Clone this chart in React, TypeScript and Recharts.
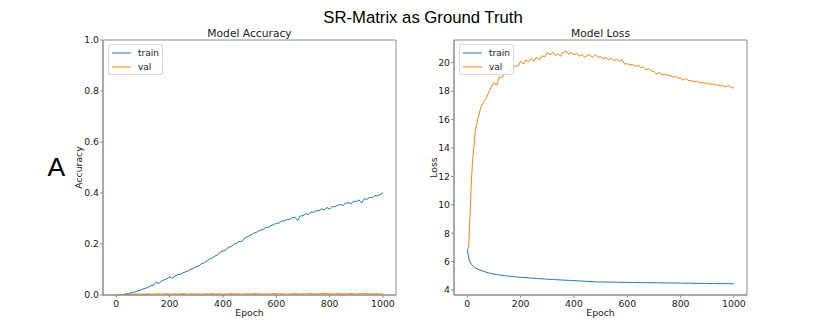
import {
  LineChart,
  Line,
  XAxis,
  YAxis,
  Legend,
  Label,
  ReferenceArea,
} from 'recharts';

// epochs sampled from the training run
const epochs = [
  0, 5, 10, 15, 20, 30, 40, 50, 60, 70,
  80, 90, 100, 110, 120, 130, 140, 150, 160, 170,
  180, 190, 200, 210, 220, 230, 240, 250, 260, 270,
  280, 290, 300, 310, 320, 330, 340, 350, 360, 370,
  380, 390, 400, 410, 420, 430, 440, 450, 460, 470,
  480, 490, 500, 510, 520, 530, 540, 550, 560, 570,
  580, 590, 600, 610, 620, 630, 640, 650, 660, 670,
  680, 690, 700, 710, 720, 730, 740, 750, 760, 770,
  780, 790, 800, 810, 820, 830, 840, 850, 860, 870,
  880, 890, 900, 910, 920, 930, 940, 950, 960, 970,
  980, 990, 1000,
];

const trainAcc = [
  0.000, 0.001, 0.000, 0.002, 0.001, 0.003, 0.005, 0.007, 0.010, 0.012,
  0.016, 0.019, 0.024, 0.026, 0.031, 0.037, 0.039, 0.051, 0.046, 0.055,
  0.060, 0.064, 0.071, 0.066, 0.074, 0.080, 0.081, 0.087, 0.091, 0.095,
  0.101, 0.105, 0.112, 0.114, 0.124, 0.126, 0.134, 0.141, 0.145, 0.153,
  0.157, 0.169, 0.172, 0.176, 0.187, 0.189, 0.199, 0.202, 0.210, 0.209,
  0.222, 0.227, 0.234, 0.238, 0.245, 0.248, 0.255, 0.256, 0.265, 0.265,
  0.272, 0.276, 0.281, 0.282, 0.290, 0.290, 0.297, 0.296, 0.304, 0.305,
  0.292, 0.310, 0.311, 0.319, 0.316, 0.326, 0.324, 0.331, 0.330, 0.337,
  0.335, 0.343, 0.337, 0.347, 0.346, 0.352, 0.355, 0.351, 0.360, 0.362,
  0.358, 0.368, 0.366, 0.373, 0.361, 0.378, 0.375, 0.383, 0.381, 0.390,
  0.389, 0.394, 0.401,
];

const valAcc = [
  0.000, 0.000, 0.001, 0.001, 0.002, 0.002, 0.003, 0.002, 0.003, 0.004,
  0.003, 0.004, 0.003, 0.004, 0.005, 0.003, 0.004, 0.004, 0.005, 0.003,
  0.004, 0.005, 0.004, 0.003, 0.005, 0.004, 0.004, 0.006, 0.004, 0.003,
  0.005, 0.004, 0.004, 0.005, 0.003, 0.004, 0.005, 0.004, 0.006, 0.004,
  0.004, 0.005, 0.003, 0.005, 0.004, 0.006, 0.004, 0.005, 0.004, 0.003,
  0.005, 0.004, 0.005, 0.004, 0.006, 0.004, 0.005, 0.003, 0.005, 0.004,
  0.004, 0.006, 0.005, 0.004, 0.005, 0.004, 0.003, 0.005, 0.004, 0.006,
  0.005, 0.004, 0.005, 0.004, 0.005, 0.006, 0.004, 0.005, 0.004, 0.005,
  0.006, 0.004, 0.005, 0.005, 0.004, 0.006, 0.005, 0.004, 0.005, 0.004,
  0.006, 0.005, 0.004, 0.005, 0.005, 0.004, 0.006, 0.005, 0.004, 0.005,
  0.005, 0.004, 0.005,
];

const trainLoss = [
  6.90, 6.25, 5.98, 5.82, 5.71, 5.56, 5.46, 5.39, 5.32, 5.26,
  5.21, 5.16, 5.12, 5.09, 5.06, 5.03, 5.01, 4.99, 4.97, 4.95,
  4.93, 4.91, 4.89, 4.88, 4.87, 4.85, 4.84, 4.83, 4.81, 4.80,
  4.79, 4.78, 4.76, 4.75, 4.74, 4.73, 4.72, 4.71, 4.70, 4.69,
  4.68, 4.67, 4.66, 4.65, 4.64, 4.63, 4.62, 4.61, 4.60, 4.59,
  4.58, 4.57, 4.57, 4.56, 4.56, 4.56, 4.55, 4.55, 4.55, 4.54,
  4.54, 4.54, 4.54, 4.53, 4.53, 4.53, 4.53, 4.52, 4.52, 4.52,
  4.52, 4.52, 4.51, 4.51, 4.51, 4.50, 4.50, 4.50, 4.50, 4.49,
  4.49, 4.49, 4.49, 4.48, 4.48, 4.48, 4.48, 4.47, 4.47, 4.47,
  4.47, 4.47, 4.46, 4.46, 4.46, 4.46, 4.46, 4.45, 4.45, 4.45,
  4.45, 4.45, 4.44,
];

const valLoss = [
  6.90, 6.95, 9.20, 11.60, 13.20, 15.20, 16.10, 16.80, 17.20, 17.50,
  17.90, 18.30, 18.60, 18.40, 19.00, 18.95, 19.25, 19.30, 19.45, 19.55,
  19.80, 19.75, 20.10, 19.90, 20.20, 20.05, 20.30, 20.10, 20.40, 20.20,
  20.50, 20.40, 20.72, 20.55, 20.75, 20.50, 20.65, 20.45, 20.75, 20.82,
  20.60, 20.74, 20.55, 20.66, 20.46, 20.58, 20.40, 20.52, 20.56, 20.36,
  20.58, 20.38, 20.42, 20.28, 20.38, 20.20, 20.30, 20.16, 20.24, 20.10,
  20.22, 19.90, 19.94, 19.84, 19.88, 19.74, 19.82, 19.66, 19.70, 19.52,
  19.58, 19.44, 19.38, 19.20, 19.32, 19.14, 19.20, 19.12, 19.12, 19.00,
  19.04, 18.92, 18.92, 18.78, 18.88, 18.74, 18.76, 18.66, 18.70, 18.58,
  18.62, 18.54, 18.58, 18.48, 18.52, 18.42, 18.44, 18.36, 18.40, 18.28,
  18.40, 18.26, 18.22,
];

const epochTicks = [0, 200, 400, 600, 800, 1000];
const accTicks = [0, 0.2, 0.4, 0.6, 0.8, 1.0];
const lossTicks = [4, 6, 8, 10, 12, 14, 16, 18, 20];

const rows = epochs.map((epoch, i) => ({
  epoch,
  trainAcc: trainAcc[i],
  valAcc: valAcc[i],
  trainLoss: trainLoss[i],
  valLoss: valLoss[i],
}));

const FONT = '"DejaVu Sans", sans-serif';
const FRAME = '#8c8c8c';
const BLUE = '#1f77b4';
const ORANGE = '#ff7f0e';
const X_DOMAIN: [number, number] = [-50, 1049];
const tickStyle = {fontFamily: FONT, fontSize: 9.3, fill: '#1a1a1a'};

const LegendBox = ({payload}: any) => (
  <div
    style={{
      width: 53,
      height: 29,
      border: '1px solid #d9d9d9',
      borderRadius: 2,
      background: 'rgba(255,255,255,0.8)',
      fontFamily: FONT,
      fontSize: 9,
      color: '#1a1a1a',
    }}
  >
    {(payload || []).map((item: any) => (
      <div key={item.value} style={{display: 'flex', alignItems: 'center', height: 14, marginTop: item.value === 'train' ? 1 : 0}}>
        <div style={{width: 19, height: 1.5, marginLeft: 3, marginRight: 7, background: item.color, opacity: 0.5}}/>
        <span style={{lineHeight: '14px'}}>{item.value}</span>
      </div>
    ))}
  </div>
);

type PanelProps = {
  title: string;
  yLabel: string;
  trainKey: string;
  valKey: string;
  domain: [number, number];
  ticks: number[];
  fmt: (v: number) => string;
  marginLeft: number;
  marginRight: number;
  yWidth: number;
  labelOffset: number;
};

const Panel = (p: PanelProps) => (
  <LineChart
    width={415}
    height={332}
    data={rows}
    margin={{top: 40, right: p.marginRight, bottom: 0, left: p.marginLeft}}
  >
    <XAxis
      dataKey="epoch"
      type="number"
      domain={X_DOMAIN}
      ticks={epochTicks}
      allowDataOverflow
      height={37}
      tick={tickStyle}
      tickSize={3}
      tickMargin={2}
      axisLine={{stroke: FRAME}}
      tickLine={{stroke: FRAME}}
    >
      <Label value="Epoch" position="insideBottom" offset={16} style={{fontFamily: FONT, fontSize: 9.3, fill: '#1a1a1a'}}/>
    </XAxis>
    <YAxis
      type="number"
      domain={p.domain}
      ticks={p.ticks}
      allowDataOverflow
      width={p.yWidth}
      tick={tickStyle}
      tickSize={3}
      tickMargin={1}
      tickFormatter={p.fmt}
      axisLine={{stroke: FRAME}}
      tickLine={{stroke: FRAME}}
    >
      <Label
        value={p.yLabel}
        angle={-90}
        position="insideLeft"
        offset={p.labelOffset}
        style={{fontFamily: FONT, fontSize: 9.3, fill: '#1a1a1a', textAnchor: 'middle'}}
      />
    </YAxis>
    {/* axes frame + panel title */}
    <ReferenceArea
      x1={X_DOMAIN[0]}
      x2={X_DOMAIN[1]}
      y1={p.domain[0]}
      y2={p.domain[1]}
      fill="none"
      fillOpacity={0}
      stroke={FRAME}
      strokeWidth={1}
      ifOverflow="visible"
    >
      <Label value={p.title} position="top" offset={3.5} style={{fontFamily: FONT, fontSize: 10.7, fill: '#1a1a1a'}}/>
    </ReferenceArea>
    <Legend
      layout="vertical"
      align="center"
      verticalAlign="middle"
      wrapperStyle={{left: p.marginLeft + p.yWidth + 5, top: 44, width: 55}}
      content={<LegendBox/>}
    />
    <Line
      name="train"
      dataKey={p.trainKey}
      type="linear"
      stroke={BLUE}
      strokeWidth={1}
      dot={false}
      isAnimationActive={false}
    />
    <Line
      name="val"
      dataKey={p.valKey}
      type="linear"
      stroke={ORANGE}
      strokeWidth={1}
      dot={false}
      isAnimationActive={false}
    />
  </LineChart>
);

export default function App() {
  return (
    <div style={{position: 'absolute', left: 0, top: 0, width: 830, height: 332, background: '#fff'}}>
      <div
        style={{
          position: 'absolute',
          left: 0,
          width: 846,
          top: 10,
          textAlign: 'center',
          fontFamily: '"Liberation Sans", Arial, sans-serif',
          fontSize: 16.7,
          lineHeight: 1,
          color: '#000',
        }}
      >
        SR-Matrix as Ground Truth
      </div>
      <div
        style={{
          position: 'absolute',
          left: 47.5,
          top: 153.5,
          fontFamily: '"Liberation Sans", Arial, sans-serif',
          fontSize: 26.5,
          lineHeight: 1,
          color: '#000',
        }}
      >
        A
      </div>
      <div style={{position: 'absolute', left: 0, top: 0}}>
        <Panel
          title="Model Accuracy"
          yLabel="Accuracy"
          trainKey="trainAcc"
          valKey="valAcc"
          domain={[0, 1]}
          ticks={accTicks}
          fmt={(v) => v.toFixed(1)}
          marginLeft={72}
          marginRight={19}
          yWidth={31}
          labelOffset={7}
        />
      </div>
      <div style={{position: 'absolute', left: 415, top: 0}}>
        <Panel
          title="Model Loss"
          yLabel="Loss"
          trainKey="trainLoss"
          valKey="valLoss"
          domain={[3.65, 21.6]}
          ticks={lossTicks}
          fmt={(v) => String(v)}
          marginLeft={14}
          marginRight={83}
          yWidth={25}
          labelOffset={4.3}
        />
      </div>
    </div>
  );
}
